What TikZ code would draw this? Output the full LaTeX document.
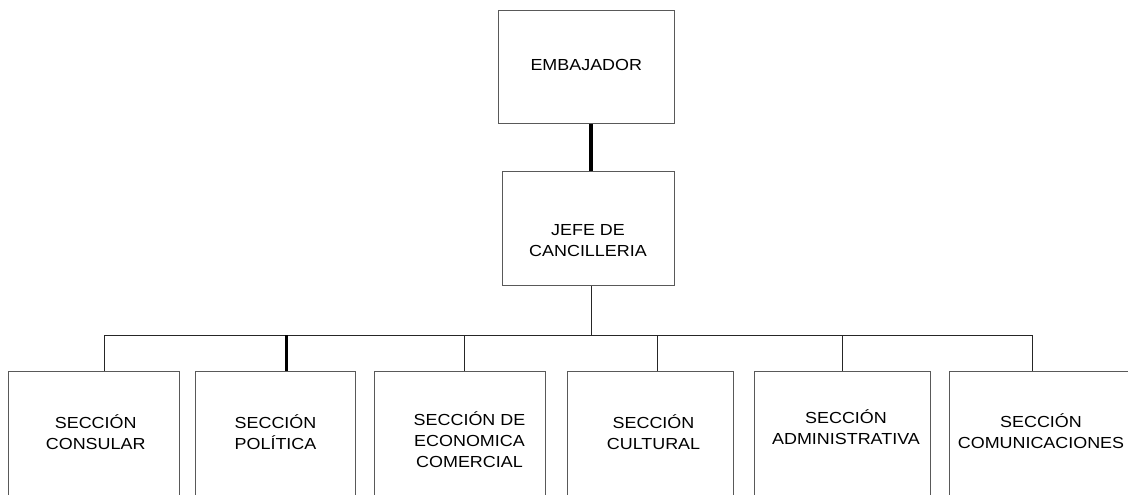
\documentclass[tikz,border=0pt]{standalone}
\usepackage{fontspec}
\setmainfont{Liberation Sans}[FakeStretch=1.12]
\usepackage{tikz}

\tikzset{
	box/.style={draw=black!65, line width=0.75pt, inner sep=0pt},
	lbl/.style={align=center, inner sep=0pt, font=\fontsize{12}{15.75}\selectfont},
	link/.style={draw=black!85, line width=0.75pt},
	heavy/.style={draw=black, line width=2.4pt}
}

\begin{document}
\begin{tikzpicture}[x=0.75pt, y=-0.75pt]
			%%%%% START %%%%%
			\useasboundingbox (0, 0) rectangle (1128, 495);
			\clip (0, 0) rectangle (1128, 495);
			
			% upper boxes
			\node[box, minimum width=132pt, minimum height=84.75pt] (emb) at (586, 67.5) {};
			\node[box, minimum width=129pt, minimum height=85.5pt] (jefe) at (588, 229) {};
			
			% lower boxes (cut by the page edge)
			\node[box, minimum width=128.25pt, minimum height=112.5pt] (consular) at (93.5, 446) {};
			\node[box, minimum width=120pt, minimum height=112.5pt] (politica) at (275, 446) {};
			\node[box, minimum width=128.25pt, minimum height=112.5pt] (economica) at (460, 446) {};
			\node[box, minimum width=124.5pt, minimum height=112.5pt] (cultural) at (650, 446) {};
			\node[box, minimum width=132pt, minimum height=112.5pt] (admin) at (842, 446) {};
			\node[box, minimum width=150pt, minimum height=112.5pt] (comunic) at (1049.5, 446) {};
			
			% texts
			\node[lbl] (t-emb) at (586.3, 65.2) {EMBAJADOR};
			\node[lbl] (t-jefe) at (588, 240.2) {JEFE DE\\CANCILLERIA};
			\node[lbl] (t-consular) at (95.7, 432.2) {SECCIÓN\\CONSULAR};
			\node[lbl] (t-politica) at (275.5, 431.7) {SECCIÓN\\POLÍTICA};
			\node[lbl] (t-economica) at (469.5, 439.7) {SECCIÓN DE\\ECONOMICA\\COMERCIAL};
			\node[lbl] (t-cultural) at (653.5, 431.7) {SECCIÓN\\CULTURAL};
			\node[lbl] (t-admin) at (846, 427.2) {SECCIÓN\\ADMINISTRATIVA};
			\node[lbl] (t-comunic) at (1041, 430.7) {SECCIÓN\\COMUNICACIONES};
			
			% bus points
			\coordinate (top) at (591, 335);
			\coordinate (b1) at (104, 335);
			\coordinate (b2) at (286.7, 335);
			\coordinate (b3) at (464, 335);
			\coordinate (b4) at (657, 335);
			\coordinate (b5) at (842.3, 335);
			\coordinate (b6) at (1032.5, 335);
			
			% connectors
			\draw[heavy] (emb.south -| top) -- (jefe.north -| top);
			\draw[link] (jefe.south -| top) -- (top);
			\draw[link] (b1) -- (b6);
			\draw[link] (b1) -- (b1 |- consular.north);
			\draw[heavy] (b2) -- (b2 |- politica.north);
			\draw[link] (b3) -- (b3 |- economica.north);
			\draw[link] (b4) -- (b4 |- cultural.north);
			\draw[link] (b5) -- (b5 |- admin.north);
			\draw[link] (b6) -- (b6 |- comunic.north);
			%%%%% END %%%%%
\end{tikzpicture}
\end{document}
